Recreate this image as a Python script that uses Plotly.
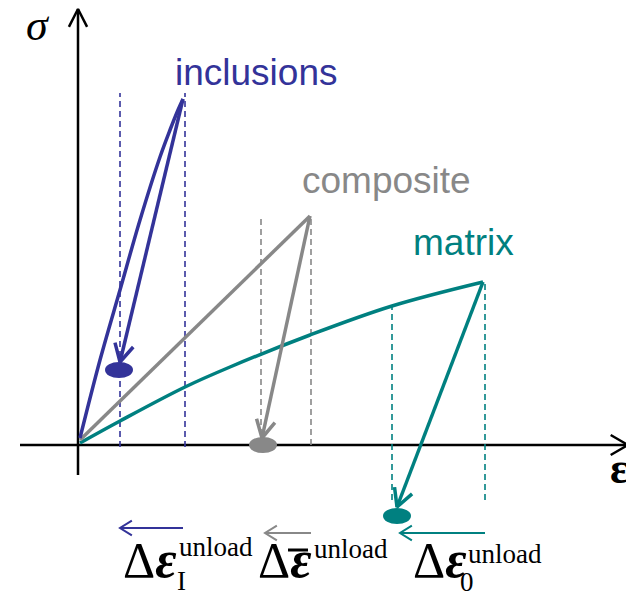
"""Schematic stress-strain loading / unloading of inclusions, composite and matrix."""

import numpy as np
import plotly.graph_objects as go

BLUE = "#333399"
GRAY = "#888888"
TEAL = "#008080"
SERIF = "Liberation Serif, Times New Roman, serif"
SANS = "Liberation Sans, Arial, sans-serif"

# strain (x) / stress (y) in arbitrary units, origin where the axes cross
inclusions_load_x = [2, 22, 42, 62, 82, 92, 100, 105]
inclusions_load_y = [7, 85, 155, 225, 288, 315, 335, 346]
inclusions_unload_x = [105, 42]
inclusions_unload_y = [346, 83]
inclusions_rest = [41, 75]
inclusions_guides_x = [42, 107]
inclusions_guides_y = [-2, 352]

composite_load_x = [2, 232]
composite_load_y = [5, 229]
composite_unload_x = [232, 184]
composite_unload_y = [229, 7]
composite_rest = [185, 0]
composite_guides_x = [183, 233]
composite_guides_y = [0, 227]

matrix_load_x = [2, 42, 107, 152, 232, 314, 405]
matrix_load_y = [2, 24, 58, 78, 110, 139, 163]
matrix_unload_x = [405, 319]
matrix_unload_y = [163, -62]
matrix_rest = [319, -71]
matrix_guides_x = [314, 407]
matrix_guides_top = [138, 163]
matrix_guides_bottom = -55

# horizontal "unload" arrows under the axis: (start, end, height)
unload_arrows = {
    BLUE: ([105, 42], -83),
    GRAY: ([233, 187], -88),
    TEAL: ([407, 322], -88),
}


def add_arrow(fig, x, y, color, width, head=20.0, spread=28.0):
    """Draw a polyline ending with an open V arrowhead at its last point."""
    fig.add_trace(
        go.Scatter(x=x, y=y, mode="lines", line={"color": color, "width": width})
    )
    tip = np.array([x[-1], y[-1]], dtype=float)
    back = np.array([x[-2], y[-2]], dtype=float)
    direction = (back - tip) / np.linalg.norm(back - tip)
    arms = []
    for sign in (1, -1):
        ang = np.radians(spread) * sign
        rot = np.array([[np.cos(ang), -np.sin(ang)], [np.sin(ang), np.cos(ang)]])
        arms.append(tip + head * rot @ direction)
    fig.add_trace(
        go.Scatter(
            x=[arms[0][0], tip[0], arms[1][0]],
            y=[arms[0][1], tip[1], arms[1][1]],
            mode="lines",
            line={"color": color, "width": width},
        )
    )


def add_guide(fig, x, y0, y1, color):
    """Dashed vertical guide line."""
    fig.add_trace(
        go.Scatter(
            x=[x, x],
            y=[y0, y1],
            mode="lines",
            line={"color": color, "width": 1.6, "dash": "6px,4px"},
        )
    )


def add_rest(fig, point, color):
    """Filled ellipse marking the unloaded state."""
    fig.add_shape(
        type="circle",
        xref="x",
        yref="y",
        x0=point[0] - 14,
        x1=point[0] + 14,
        y0=point[1] - 8,
        y1=point[1] + 8,
        fillcolor=color,
        line_width=0,
    )


def label(fig, x, y, text, size, color="black", family=SERIF, anchor="left"):
    """Plain text annotation."""
    fig.add_annotation(
        x=x,
        y=y,
        text=text,
        showarrow=False,
        xanchor=anchor,
        yanchor="middle",
        font={"family": family, "size": size, "color": color},
    )


fig = go.Figure()

# axes
add_arrow(fig, [0, 0], [-30, 436], "black", 2.5, head=20, spread=27)
add_arrow(fig, [-58, 550], [0, 0], "black", 2.5, head=20, spread=30)

# guides
for gx in inclusions_guides_x:
    add_guide(fig, gx, inclusions_guides_y[0], inclusions_guides_y[1], BLUE)
for gx in composite_guides_x:
    add_guide(fig, gx, composite_guides_y[0], composite_guides_y[1], GRAY)
for gx, top in zip(matrix_guides_x, matrix_guides_top):
    add_guide(fig, gx, matrix_guides_bottom, top, TEAL)

# loading curves
fig.add_trace(
    go.Scatter(
        x=matrix_load_x,
        y=matrix_load_y,
        mode="lines",
        line={"color": TEAL, "width": 3.5, "shape": "spline"},
    )
)
fig.add_trace(
    go.Scatter(
        x=composite_load_x,
        y=composite_load_y,
        mode="lines",
        line={"color": GRAY, "width": 3.5},
    )
)
fig.add_trace(
    go.Scatter(
        x=inclusions_load_x,
        y=inclusions_load_y,
        mode="lines",
        line={"color": BLUE, "width": 3.5, "shape": "spline"},
    )
)

# unloading arrows
add_arrow(fig, inclusions_unload_x, inclusions_unload_y, BLUE, 3.5)
add_arrow(fig, composite_unload_x, composite_unload_y, GRAY, 3.5)
add_arrow(fig, matrix_unload_x, matrix_unload_y, TEAL, 3.5)

add_rest(fig, inclusions_rest, BLUE)
add_rest(fig, composite_rest, GRAY)
add_rest(fig, matrix_rest, TEAL)

for color, (xs, ys) in unload_arrows.items():
    add_arrow(fig, xs, [ys, ys], color, 2, head=14, spread=32)

# curve names
label(fig, 178, 373, "inclusions", 37, BLUE, SANS, "center")
label(fig, 308, 265, "composite", 37, GRAY, SANS, "center")
label(fig, 385, 203, "matrix", 37, TEAL, SANS, "center")

# axis names
label(fig, -40, 420, "<i>σ</i>", 44, anchor="center")
label(fig, 541, -23, "<b>ε</b>", 44, anchor="center")

# unload strain labels
eps = '<b><i><span style="font-size:52px">ε</span></i></b>'
label(fig, 43, -114, "Δ" + eps, 50)
label(fig, 99, -102, "unload", 27)
label(fig, 97, -136, "I", 27)

label(fig, 178, -114, "Δ" + eps, 50)
label(fig, 234, -104, "unload", 27)
fig.add_shape(
    type="line",
    xref="x",
    yref="y",
    x0=210,
    x1=230,
    y0=-105,
    y1=-105,
    line={"color": "black", "width": 3},
)

label(fig, 333, -114, "Δ" + eps, 50)
label(fig, 388, -109, "unload", 27)
label(fig, 380, -137, "0", 27)

# the page adds an 8px body margin, so the figure is 8px short each way
fig.update_layout(
    width=626,
    height=583,
    margin={"l": 0, "r": 0, "t": 0, "b": 0},
    paper_bgcolor="white",
    plot_bgcolor="white",
    showlegend=False,
)
fig.update_xaxes(range=[-70, 556], visible=False, fixedrange=True)
fig.update_yaxes(range=[-146, 437], visible=False, fixedrange=True)

fig.write_html("out.html")
